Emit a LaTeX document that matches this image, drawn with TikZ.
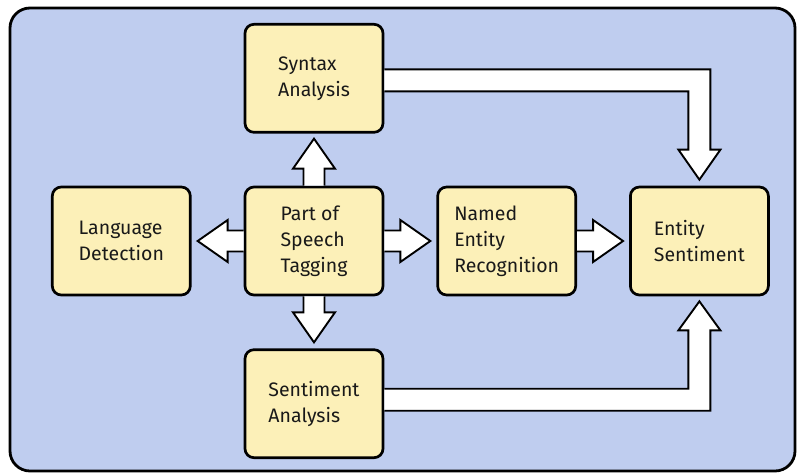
\documentclass[tikz,border=0pt]{standalone}
\usepackage{fontspec}
\setmainfont{Fira Sans}
\usetikzlibrary{positioning,calc}

\definecolor{panel}{RGB}{191,205,239}
\definecolor{boxfill}{RGB}{252,240,184}
\definecolor{ink}{RGB}{25,25,25}

\tikzset{
  stage/.style={draw, line width=2.7pt, rounded corners=9pt, fill=boxfill,
    minimum width=138pt, minimum height=108pt, align=left, text=ink,
    font=\fontsize{19.5}{26}\selectfont},
  fatarrow/.style={draw, line width=1.9pt, fill=white, line join=miter}
}

\begin{document}
\begin{tikzpicture}[x=1pt,y=-1pt,node distance=52pt]
\useasboundingbox (0,0) rectangle (797,475);
\draw[line width=2.8pt, rounded corners=20pt, fill=panel] (10,8) rectangle (795,471);

% the boxes
\node[stage] (pos) at (314,241) {Part of\\Speech\\Tagging};
\node[stage, above=of pos] (syn) {Syntax\\Analysis};
\node[stage, below=of pos] (sent) {Sentiment\\Analysis};
\node[stage, left=of pos] (lang) {Language\\Detection};
\node[stage, right=of pos] (ner) {Named\\Entity\\Recognition};
\node[stage, right=of ner] (ent) {Entity\\Sentiment};

% straight arrows
\draw[fatarrow] ($(pos.north)+(-10.5,0)$) -- ($(syn.south)+(-10.5,35)$) -- ($(syn.south)+(-21,35)$)
  -- ($(syn.south)+(0,5)$) -- ($(syn.south)+(21,35)$) -- ($(syn.south)+(10.5,35)$) -- ($(pos.north)+(10.5,0)$);
\draw[fatarrow] ($(pos.south)+(-10.5,0)$) -- ($(sent.north)+(-10.5,-36)$) -- ($(sent.north)+(-21,-36)$)
  -- ($(sent.north)+(0,-6)$) -- ($(sent.north)+(21,-36)$) -- ($(sent.north)+(10.5,-36)$) -- ($(pos.south)+(10.5,0)$);
\draw[fatarrow] ($(pos.west)+(0,-10.5)$) -- ($(lang.east)+(36,-10.5)$) -- ($(lang.east)+(36,-21)$)
  -- ($(lang.east)+(6,0)$) -- ($(lang.east)+(36,21)$) -- ($(lang.east)+(36,10.5)$) -- ($(pos.west)+(0,10.5)$);
\draw[fatarrow] ($(pos.east)+(0,-10.5)$) -- ($(ner.west)+(-36,-10.5)$) -- ($(ner.west)+(-36,-21)$)
  -- ($(ner.west)+(-6,0)$) -- ($(ner.west)+(-36,21)$) -- ($(ner.west)+(-36,10.5)$) -- ($(pos.east)+(0,10.5)$);
\draw[fatarrow] ($(ner.east)+(0,-10.5)$) -- ($(ent.west)+(-36,-10.5)$) -- ($(ent.west)+(-36,-21)$)
  -- ($(ent.west)+(-6,0)$) -- ($(ent.west)+(-36,21)$) -- ($(ent.west)+(-36,10.5)$) -- ($(ner.east)+(0,10.5)$);

% elbow arrows into Entity Sentiment
\coordinate (su) at ($(syn.east)+(0,-9)$);
\coordinate (sd) at ($(syn.east)+(0,13)$);
\coordinate (er) at ($(ent.north)+(11,-36)$);
\coordinate (el) at ($(ent.north)+(-11,-36)$);
\draw[fatarrow] (su) -- (er |- su) -- (er) -- ($(er)+(10,0)$) -- ($(ent.north)+(0,-6)$)
  -- ($(el)+(-10,0)$) -- (el) -- (el |- sd) -- (sd);

\coordinate (bu) at ($(sent.east)+(0,-15)$);
\coordinate (bd) at ($(sent.east)+(0,7)$);
\coordinate (fr) at ($(ent.south)+(11,34)$);
\coordinate (fl) at ($(ent.south)+(-11,34)$);
\draw[fatarrow] (bd) -- (fr |- bd) -- (fr) -- ($(fr)+(10,0)$) -- ($(ent.south)+(0,5)$)
  -- ($(fl)+(-10,0)$) -- (fl) -- (fl |- bu) -- (bu);
\end{tikzpicture}
\end{document}
